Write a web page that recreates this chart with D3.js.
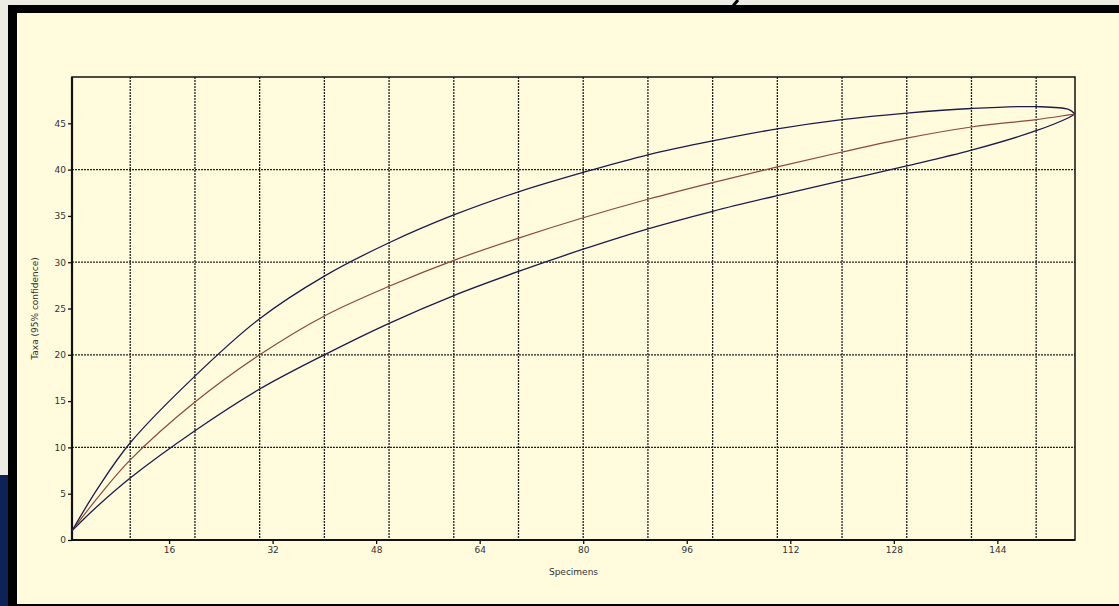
<!DOCTYPE html>
<html><head><meta charset="utf-8">
<script src="https://cdn.jsdelivr.net/npm/d3@7"></script>
<style>html,body{margin:0;padding:0;background:#ecebe4;}svg{display:block;}</style>
</head><body>
<svg id="c" width="1119" height="606"></svg>
<script>
const specimens = [1, 5, 10, 20, 30, 40, 50, 60, 70, 80, 90, 100, 110, 120, 130, 140, 150, 155, 156];
const taxaMean  = [1, 4.6, 8.65, 14.9, 20.0, 24.2, 27.4, 30.2, 32.6, 34.8, 36.8, 38.6, 40.3, 41.9, 43.4, 44.6, 45.4, 45.9, 46.0];
const taxaUpper = [1, 5.6, 10.5, 17.7, 23.9, 28.5, 32.1, 35.1, 37.6, 39.7, 41.6, 43.1, 44.4, 45.4, 46.1, 46.6, 46.8, 46.5, 46.0];
const taxaLower = [1, 3.7, 6.7, 11.8, 16.3, 20.0, 23.4, 26.4, 29.0, 31.4, 33.6, 35.5, 37.2, 38.8, 40.4, 42.1, 44.2, 45.6, 46.0];
const xTicks = [16, 32, 48, 64, 80, 96, 112, 128, 144];
const yTicks = [0, 5, 10, 15, 20, 25, 30, 35, 40, 45];
const xGrid = [10, 20, 30, 40, 50, 60, 70, 80, 90, 100, 110, 120, 130, 140, 150];
const yGrid = [10, 20, 30, 40];

const svg = d3.select("#c");
// page frame
svg.append("rect").attr("x",0).attr("y",0).attr("width",1119).attr("height",606).attr("fill","#ecebe4");
svg.append("rect").attr("x",0).attr("y",475).attr("width",10).attr("height",131).attr("fill","#0d2257");
svg.append("rect").attr("x",8).attr("y",5).attr("width",1111).attr("height",601).attr("fill","#000");
svg.append("rect").attr("x",17).attr("y",13).attr("width",1102).attr("height",591).attr("fill","#fffbdc");
svg.append("line").attr("x1",738).attr("y1",0).attr("x2",733).attr("y2",6).attr("stroke","#000").attr("stroke-width",3);

const L = 72, T = 77, R = 1075, B = 540;
const x = d3.scaleLinear().domain([1, 156]).range([L, R]);
const y = d3.scaleLinear().domain([0, 50]).range([B, T]);

const g = svg.append("g");
// grid
g.selectAll(".vg").data(xGrid).enter().append("line")
  .attr("x1", d => x(d)).attr("x2", d => x(d)).attr("y1", T).attr("y2", B)
  .attr("stroke", "#222").attr("stroke-width", 1.3).attr("stroke-dasharray", "2,1");
g.selectAll(".hg").data(yGrid).enter().append("line")
  .attr("x1", L).attr("x2", R).attr("y1", d => y(d)).attr("y2", d => y(d))
  .attr("stroke", "#222").attr("stroke-width", 1.3).attr("stroke-dasharray", "2,1");

// frame of plot
g.append("rect").attr("x", L).attr("y", T).attr("width", R - L).attr("height", B - T)
  .attr("fill", "none").attr("stroke", "#111").attr("stroke-width", 1.5);

// axes
const xAxis = d3.axisBottom(x).tickValues(xTicks).tickSize(4).tickPadding(3).tickSizeOuter(0);
const yAxis = d3.axisLeft(y).tickValues(yTicks).tickSize(4).tickPadding(2).tickSizeOuter(0);
const gx = svg.append("g").attr("transform", `translate(0,${B})`).call(xAxis);
const gy = svg.append("g").attr("transform", `translate(${L},0)`).call(yAxis);
[gx, gy].forEach(a => {
  a.select(".domain").attr("stroke", "#111").attr("stroke-width", 2.2);
  a.selectAll(".tick line").attr("stroke", "#111").attr("stroke-width", 1.3);
  a.selectAll(".tick text").attr("fill", "#333").attr("font-family", "DejaVu Sans, sans-serif").attr("font-size", 9);
});
gy.select(".domain").attr("d", `M0,${T}V${B}`);
gx.select(".domain").attr("d", `M${L},0H${R}`);

// curves
const curveGen = d3.line().x((d, i) => x(specimens[i])).y(d => y(d)).curve(d3.curveCatmullRom.alpha(0.5));
svg.append("path").attr("d", curveGen(taxaLower)).attr("fill", "none").attr("stroke", "#1c1c4a").attr("stroke-width", 1.3);
svg.append("path").attr("d", curveGen(taxaMean)).attr("fill", "none").attr("stroke", "#8a4a3c").attr("stroke-width", 1.2);
svg.append("path").attr("d", curveGen(taxaUpper)).attr("fill", "none").attr("stroke", "#1c1c4a").attr("stroke-width", 1.3);

// labels
svg.append("text").attr("x", (L + R) / 2).attr("y", 575).attr("text-anchor", "middle")
  .attr("font-family", "DejaVu Sans, sans-serif").attr("font-size", 9).attr("fill", "#333").text("Specimens");
svg.append("text").attr("transform", `translate(38,${(T + B) / 2}) rotate(-90)`).attr("text-anchor", "middle")
  .attr("font-family", "DejaVu Sans, sans-serif").attr("font-size", 9).attr("fill", "#333").text("Taxa (95% confidence)");
</script>
</body></html>
